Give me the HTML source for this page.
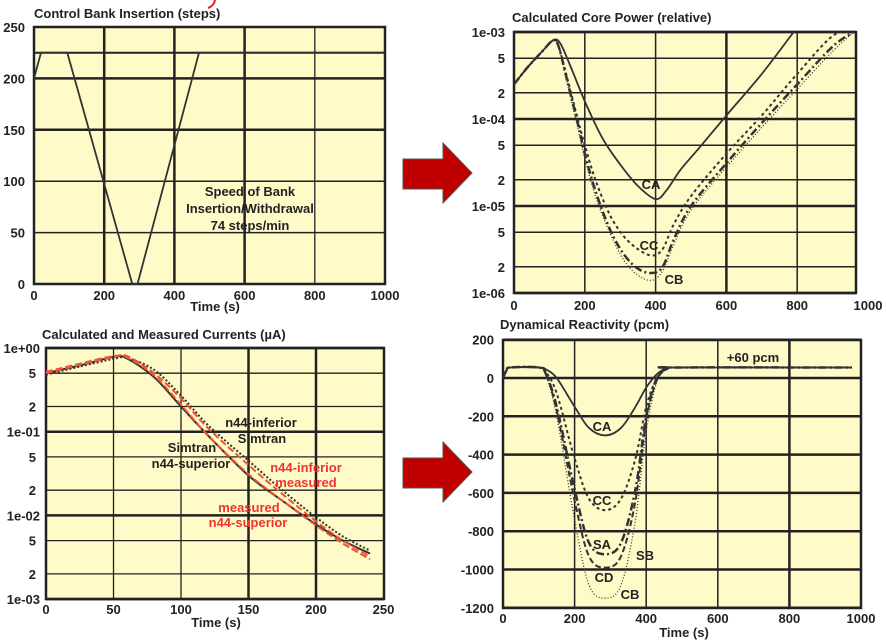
<!DOCTYPE html>
<html><head><meta charset="utf-8">
<style>
body{margin:0;background:#fff;}
svg{display:block;font-family:"Liberation Sans",sans-serif;}
.t{font-size:13px;font-weight:bold;fill:#222;}
.tk{font-size:13px;font-weight:bold;fill:#222;}
</style></head><body>
<svg id="s" width="886" height="643"></svg>
<script>
// ---- Panel 1: control bank insertion
const p1Time=[0,20,95,280,295,470,1000];
const p1Steps=[200,225,225,0,0,225,225];
const p1XTicks=[0,200,400,600,800,1000];
const p1YTicks=[0,50,100,150,200,250];
// ---- Panel 2: core power
const p2Time=[0,40,80,110,130,160,200,250,300,350,400,430,470,520,600,700,790];
const p2CA=[2.5e-4,4e-4,6e-4,8e-4,7.5e-4,4e-4,1.6e-4,6e-5,3e-5,1.7e-5,1.2e-5,1.5e-5,2.6e-5,4.5e-5,1.1e-4,3.3e-4,1e-3];
const p2TimeB=[0,40,80,110,125,150,180,200,230,270,310,350,390,420,450,500,600,700,800,900,960];
const p2CC=[2.5e-4,4e-4,6e-4,8e-4,7e-4,3e-4,1e-4,5e-5,2e-5,8e-6,4.5e-6,3.2e-6,2.7e-6,3.2e-6,6e-6,1.3e-5,4e-5,1.1e-4,3.3e-4,9e-4,1e-3];
const p2CB=[2.5e-4,4e-4,6e-4,8e-4,7e-4,2.6e-4,8e-5,3.5e-5,1.3e-5,5e-6,2.4e-6,1.6e-6,1.4e-6,1.8e-6,3.5e-6,9e-6,2.8e-5,8e-5,2.2e-4,6e-4,1e-3];
const p2CD=[2.5e-4,4e-4,6e-4,8e-4,7e-4,2.8e-4,9e-5,4e-5,1.5e-5,5.5e-6,2.8e-6,1.9e-6,1.7e-6,2e-6,4e-6,1e-5,3.1e-5,9e-5,2.5e-4,6.8e-4,1e-3];
const p2Ticks=[[1e-3,"1e-03"],[5e-4,"5"],[2e-4,"2"],[1e-4,"1e-04"],[5e-5,"5"],[2e-5,"2"],[1e-5,"1e-05"],[5e-6,"5"],[2e-6,"2"],[1e-6,"1e-06"]];
// ---- Panel 3: currents
const p3Time=[0,25,50,60,80,100,120,150,175,200,220,240];
const p3SimSup=[0.5,0.62,0.78,0.75,0.45,0.2,0.09,0.03,0.015,0.0078,0.005,0.0035];
const p3SimInf=[0.48,0.6,0.74,0.76,0.55,0.27,0.12,0.045,0.02,0.0095,0.0056,0.0038];
const p3MeasSup=[0.52,0.65,0.8,0.77,0.47,0.21,0.09,0.031,0.015,0.0076,0.0046,0.003];
const p3MeasInf=[0.5,0.63,0.78,0.8,0.5,0.25,0.11,0.04,0.018,0.0085,0.005,0.0032];
const p3XTicks=[0,50,100,150,200,250];
const p3Ticks=[[1,"1e+00"],[0.5,"5"],[0.2,"2"],[0.1,"1e-01"],[0.05,"5"],[0.02,"2"],[0.01,"1e-02"],[0.005,"5"],[0.002,"2"],[0.001,"1e-03"]];
// ---- Panel 4: reactivity
const p4Time=[0,10,20,100,120,150,200,240,285,330,370,400,430,460,475,1000];
const p4CA=[0,40,55,55,45,0,-150,-260,-300,-260,-150,-50,20,55,55,55];
const p4CC=[0,40,55,55,30,-80,-420,-630,-690,-630,-420,-150,0,50,55,55];
const p4SA=[0,40,55,55,20,-150,-580,-860,-920,-860,-580,-200,0,50,55,55];
const p4CD=[0,40,55,55,20,-170,-640,-930,-990,-930,-640,-220,-10,50,55,55];
const p4CB=[0,40,55,55,15,-200,-740,-1080,-1150,-1080,-740,-280,-20,50,55,55];
const p4XTicks=[0,200,400,600,800,1000];
const p4YTicks=[200,0,-200,-400,-600,-800,-1000,-1200];

const NS="http://www.w3.org/2000/svg";
const S=document.getElementById('s');
function el(tag,attrs,parent){const e=document.createElementNS(NS,tag);for(const k in attrs)e.setAttribute(k,attrs[k]);(parent||S).appendChild(e);return e;}
function txt(x,y,s,cls,anchor,fill,parent){const e=el('text',{x:x,y:y,class:cls,'text-anchor':anchor||'start'},parent);if(fill)e.style.fill=fill;e.textContent=s;return e;}
function path(xs,ys,fx,fy,style,name,smooth){const P=xs.map((v,i)=>[fx(v),fy(ys[i])]);let d='M'+P[0][0].toFixed(1)+','+P[0][1].toFixed(1);
for(let i=1;i<P.length;i++){if(!smooth){d+='L'+P[i][0].toFixed(1)+','+P[i][1].toFixed(1);continue;}
const p0=P[Math.max(i-2,0)],p1=P[i-1],p2=P[i],p3=P[Math.min(i+1,P.length-1)];const k=1/6;
const c1=[p1[0]+(p2[0]-p0[0])*k,p1[1]+(p2[1]-p0[1])*k],c2=[p2[0]-(p3[0]-p1[0])*k,p2[1]-(p3[1]-p1[1])*k];
d+='C'+c1[0].toFixed(1)+','+c1[1].toFixed(1)+' '+c2[0].toFixed(1)+','+c2[1].toFixed(1)+' '+p2[0].toFixed(1)+','+p2[1].toFixed(1);}
const p=el('path',Object.assign({d:d,fill:'none','stroke-linejoin':'round'},style));


return p;}
function frame(x0,y0,x1,y1,name){const r=el('rect',{x:x0,y:y0,width:x1-x0,height:y1-y0,fill:'#fffbc8',stroke:'#222','stroke-width':2.5});

}
function hl(x0,x1,y,w){el('line',{x1:x0,x2:x1,y1:y,y2:y,stroke:'#222','stroke-width':w});}
function vl(x,y0,y1,w){el('line',{x1:x,x2:x,y1:y0,y2:y1,stroke:'#222','stroke-width':w});}

// Panel 1
{const fx=v=>34+v*0.351,fy=v=>284-v*1.028;
frame(34,27,385,284,'insertion-plot-area');
p1YTicks.forEach(v=>{hl(34,385,fy(v),(v==150||v==200)?2.5:1.5);const t=txt(25,fy(v)+5,v,'tk','end');});
p1XTicks.forEach(v=>{vl(fx(v),27,284,(v==200||v==400||v==600)?2.5:1.3);const t=txt(fx(v),300,v,'tk','middle');});
hl(34,385,fy(225),2);
path(p1Time,p1Steps,fx,fy,{stroke:'#333','stroke-width':1.8},'insertion-line');
const t=txt(34,18,'Control Bank Insertion (steps)','t');
txt(215,311,'Time (s)','t','middle');
txt(250,196,'Speed of Bank','t','middle');txt(250,213,'Insertion/Withdrawal','t','middle');txt(250,230,'74 steps/min','t','middle');
el('path',{d:'M215,0 Q214,6 208,8',stroke:'#d22',fill:'none','stroke-width':2});}

// Panel 2
{const x0=514,x1=856,fx=v=>x0+v*0.354,fy=v=>293-(Math.log10(v)+6)*87;
frame(x0,32,x1,293,'power-plot-area');
p2Ticks.forEach(([v,l])=>{hl(x0,x1,fy(v),l.length>1?2.5:1.5);txt(505,fy(v)+5,l,'tk','end');});
[0,200,400,600,800,1000].forEach(v=>{if(v>0&&v<1000)vl(fx(v),32,293,v==600?2.5:1.5);txt(fx(v),310,v,'tk','middle');});
const clip=el('clipPath',{id:'c2'});el('rect',{x:x0,y:32,width:x1-x0,height:261},clip);
const g=el('g',{'clip-path':'url(#c2)'});
[[p2Time,p2CA,{stroke:'#333','stroke-width':1.8},'ca-curve'],[p2TimeB,p2CC,{stroke:'#333','stroke-width':2,'stroke-dasharray':'3,3'},'cc-curve'],[p2TimeB,p2CB,{stroke:'#333','stroke-width':1.3,'stroke-dasharray':'1,2'},'cb-curve'],[p2TimeB,p2CD,{stroke:'#333','stroke-width':2.5,'stroke-dasharray':'8,3,2,3'},'cd-curve']].forEach(a=>g.appendChild(path(a[0],a[1],fx,fy,a[2],a[3],true)));
txt(512,22,'Calculated Core Power (relative)','t');
txt(651,189,'CA','t','middle');txt(649,250,'CC','t','middle');txt(674,284,'CB','t','middle');}

// Panel 3
{const x0=46,x1=384,fx=v=>x0+v*1.35,fy=v=>348+(-Math.log10(v))*83.7;
frame(x0,348,x1,599,'currents-plot-area');
p3Ticks.forEach(([v,l])=>{hl(x0,x1,fy(v),l.length>1?2.5:1.3);txt(l.length>1?40:36,fy(v)+5,l,'tk','end');});
p3XTicks.forEach(v=>{if(v>0&&v<250)vl(fx(v),348,599,(v==150||v==200)?2.5:1.3);txt(fx(v),614,v,'tk','middle');});
path(p3Time,p3SimSup,fx,fy,{stroke:'#333','stroke-width':2},'simtran-superior',true);
path(p3Time,p3SimInf,fx,fy,{stroke:'#333','stroke-width':2,'stroke-dasharray':'2,2'},'simtran-inferior',true);
path(p3Time,p3MeasSup,fx,fy,{stroke:'#e53','stroke-width':2,'stroke-dasharray':'7,3'},'measured-superior',true);
path(p3Time,p3MeasInf,fx,fy,{stroke:'#e53','stroke-width':2,'stroke-dasharray':'7,3'},'measured-inferior',true);
txt(42,339,'Calculated and Measured Currents (\u00b5A)','t');
txt(216,627,'Time (s)','t','middle');
txt(261,427,'n44-inferior','tk','middle');txt(262,443,'Simtran','tk','middle');
txt(192,452,'Simtran','tk','middle');txt(191,468,'n44-superior','tk','middle');
txt(306,472,'n44-inferior','tk','middle','#e33');txt(306,487,'measured','tk','middle','#e33');
txt(249,512,'measured','tk','middle','#e33');txt(248,527,'n44-superior','tk','middle','#e33');}

// Panel 4
{const x0=503,x1=861,fx=v=>x0+v*0.358,fy=v=>378-v*0.1915;
frame(x0,340,x1,608,'reactivity-plot-area');
p4YTicks.forEach(v=>{hl(x0,x1,fy(v),2.5);txt(494,fy(v)+5,v,'tk','end');});
p4XTicks.forEach(v=>{if(v>0&&v<1000)vl(fx(v),340,608,v==800?2.5:1.5);txt(fx(v),623,v,'tk','middle');});
const t4=p4Time.map(v=>Math.min(v,975));
path(t4,p4CA,fx,fy,{stroke:'#333','stroke-width':1.8},'ca-reactivity',true);
path(t4,p4CC,fx,fy,{stroke:'#333','stroke-width':2,'stroke-dasharray':'3,3'},'cc-reactivity',true);
path(t4,p4SA,fx,fy,{stroke:'#333','stroke-width':2.5,'stroke-dasharray':'8,3,2,3'},'sa-reactivity',true);
path(t4,p4CD,fx,fy,{stroke:'#333','stroke-width':2,'stroke-dasharray':'6,3'},'cd-reactivity',true);
path(t4,p4CB,fx,fy,{stroke:'#333','stroke-width':1.3,'stroke-dasharray':'1,2'},'cb-reactivity',true);
txt(500,329,'Dynamical Reactivity (pcm)','t');
txt(684,637,'Time (s)','t','middle');
txt(753,362,'+60 pcm','t','middle');
txt(602,431,'CA','t','middle');txt(602,505,'CC','t','middle');txt(602,549,'SA','t','middle');
txt(645,560,'SB','t','middle');txt(604,582,'CD','t','middle');txt(630,599,'CB','t','middle');}

// arrows
[0,299].forEach((dy,i)=>{const a=el('polygon',{points:`403,${159+dy} 443,${159+dy} 443,${143+dy} 472,${173+dy} 443,${203+dy} 443,${189+dy} 403,${189+dy}`,fill:'#c00000',stroke:'#555','stroke-width':1});

});
</script>
</body></html>
